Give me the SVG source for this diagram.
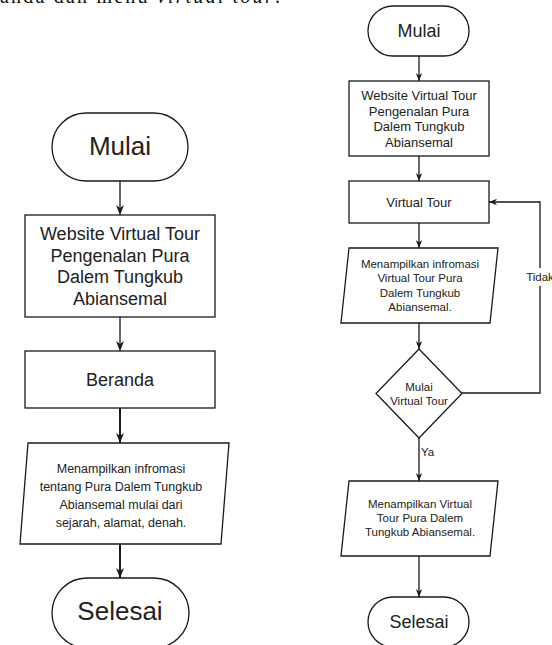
<svg xmlns="http://www.w3.org/2000/svg" width="552" height="645" viewBox="0 0 552 645">
<defs>
<style>
.n{fill:#fff;stroke:#1a1a1a;stroke-width:1.3}
.t{font-family:"Liberation Sans",Arial,sans-serif;fill:#222;text-anchor:middle}
.c{fill:none;stroke:#1a1a1a;stroke-width:1.3}
.c2{fill:none;stroke:#1a1a1a;stroke-width:2}
</style>
<marker id="ah" markerUnits="userSpaceOnUse" markerWidth="10" markerHeight="10" viewBox="0 0 10 10" refX="10" refY="5" orient="auto">
<path d="M0,1 L10,5 L0,9 L3,5 Z" fill="#1a1a1a"/>
</marker>
<marker id="ah2" markerUnits="userSpaceOnUse" markerWidth="8" markerHeight="8" viewBox="0 0 10 10" refX="10" refY="5" orient="auto">
<path d="M0,1 L10,5 L0,9 L3,5 Z" fill="#1a1a1a"/>
</marker>
</defs>
<rect width="552" height="645" fill="#fff"/>
<text x="0" y="3" font-family="Liberation Serif,serif" font-size="20" fill="#111" textLength="280">anda dan menu <tspan font-style="italic">virtual tour</tspan>.</text>

<g id="connectors">
<line class="c" x1="120" y1="181" x2="120" y2="215" marker-end="url(#ah)"/>
<line class="c" x1="120" y1="317" x2="120" y2="351" marker-end="url(#ah)"/>
<line class="c2" x1="120" y1="408" x2="120" y2="443" marker-end="url(#ah)"/>
<line class="c2" x1="120" y1="544" x2="120" y2="578" marker-end="url(#ah)"/>

<line class="c" x1="419" y1="56" x2="419" y2="81" marker-end="url(#ah2)"/>
<line class="c" x1="419" y1="156" x2="419" y2="181" marker-end="url(#ah2)"/>
<line class="c" x1="419" y1="223" x2="419" y2="248" marker-end="url(#ah2)"/>
<line class="c" x1="419" y1="323" x2="419" y2="349" marker-end="url(#ah2)"/>
<line class="c" x1="419" y1="438" x2="419" y2="481" marker-end="url(#ah2)"/>
<line class="c" x1="419" y1="556" x2="419" y2="597" marker-end="url(#ah2)"/>
<polyline class="c" points="462,393 540,393 540,202 489,202" marker-end="url(#ah2)"/>
<rect x="526" y="268" width="28" height="18" fill="#fff"/>
<text class="t" x="540" y="281" font-size="11.5">Tidak</text>
<text class="t" x="421" y="456" font-size="11.5" text-anchor="start" style="text-anchor:start">Ya</text>
</g>

<g id="l-mulai">
<rect class="n" x="52" y="113" width="136" height="68" rx="34"/>
<text class="t" x="120" y="155" font-size="26">Mulai</text>
</g>
<g id="l-website">
<rect class="n" x="25" y="215" width="190" height="102"/>
<text class="t" font-size="18"><tspan x="120" y="240">Website Virtual Tour</tspan><tspan x="120" y="261.5">Pengenalan Pura</tspan><tspan x="120" y="283">Dalem Tungkub</tspan><tspan x="120" y="304.5">Abiansemal</tspan></text>
</g>
<g id="l-beranda">
<rect class="n" x="25" y="351" width="190" height="57"/>
<text class="t" x="120" y="386" font-size="18">Beranda</text>
</g>
<g id="l-info">
<polygon class="n" points="28,443 229,443 221,544 20,544"/>
<text class="t" font-size="12.5"><tspan x="121" y="473">Menampilkan infromasi</tspan><tspan x="121" y="491">tentang Pura Dalem Tungkub</tspan><tspan x="121" y="509">Abiansemal mulai dari</tspan><tspan x="121" y="527">sejarah, alamat, denah.</tspan></text>
</g>
<g id="l-selesai">
<rect class="n" x="52" y="578" width="137" height="70" rx="35"/>
<text class="t" x="120" y="620" font-size="26">Selesai</text>
</g>

<g id="r-mulai">
<rect class="n" x="368" y="6" width="101" height="50" rx="25"/>
<text class="t" x="419" y="37" font-size="18">Mulai</text>
</g>
<g id="r-website">
<rect class="n" x="349" y="81" width="140" height="75"/>
<text class="t" font-size="13"><tspan x="419" y="100">Website Virtual Tour</tspan><tspan x="419" y="115.5">Pengenalan Pura</tspan><tspan x="419" y="131">Dalem Tungkub</tspan><tspan x="419" y="146.5">Abiansemal</tspan></text>
</g>
<g id="r-virtual">
<rect class="n" x="349" y="181" width="140" height="42"/>
<text class="t" x="419" y="207" font-size="13">Virtual Tour</text>
</g>
<g id="r-info">
<polygon class="n" points="349,248 498,248 490,323 341,323"/>
<text class="t" font-size="11.5"><tspan x="420" y="268">Menampilkan infromasi</tspan><tspan x="420" y="282">Virtual Tour Pura</tspan><tspan x="420" y="296.5">Dalem Tungkub</tspan><tspan x="420" y="310.5">Abiansemal.</tspan></text>
</g>
<g id="r-decision">
<polygon class="n" points="419,349 462,393.5 419,438 376,393.5"/>
<text class="t" font-size="11.5"><tspan x="419" y="390.5">Mulai</tspan><tspan x="419" y="405">Virtual Tour</tspan></text>
</g>
<g id="r-tampil">
<polygon class="n" points="349,481 498,481 490,556 341,556"/>
<text class="t" font-size="11.5"><tspan x="420" y="507.5">Menampilkan Virtual</tspan><tspan x="420" y="521.5">Tour Pura Dalem</tspan><tspan x="420" y="535.5">Tungkub Abiansemal.</tspan></text>
</g>
<g id="r-selesai">
<rect class="n" x="368" y="597" width="101" height="50" rx="25"/>
<text class="t" x="419" y="628" font-size="18">Selesai</text>
</g>
</svg>
